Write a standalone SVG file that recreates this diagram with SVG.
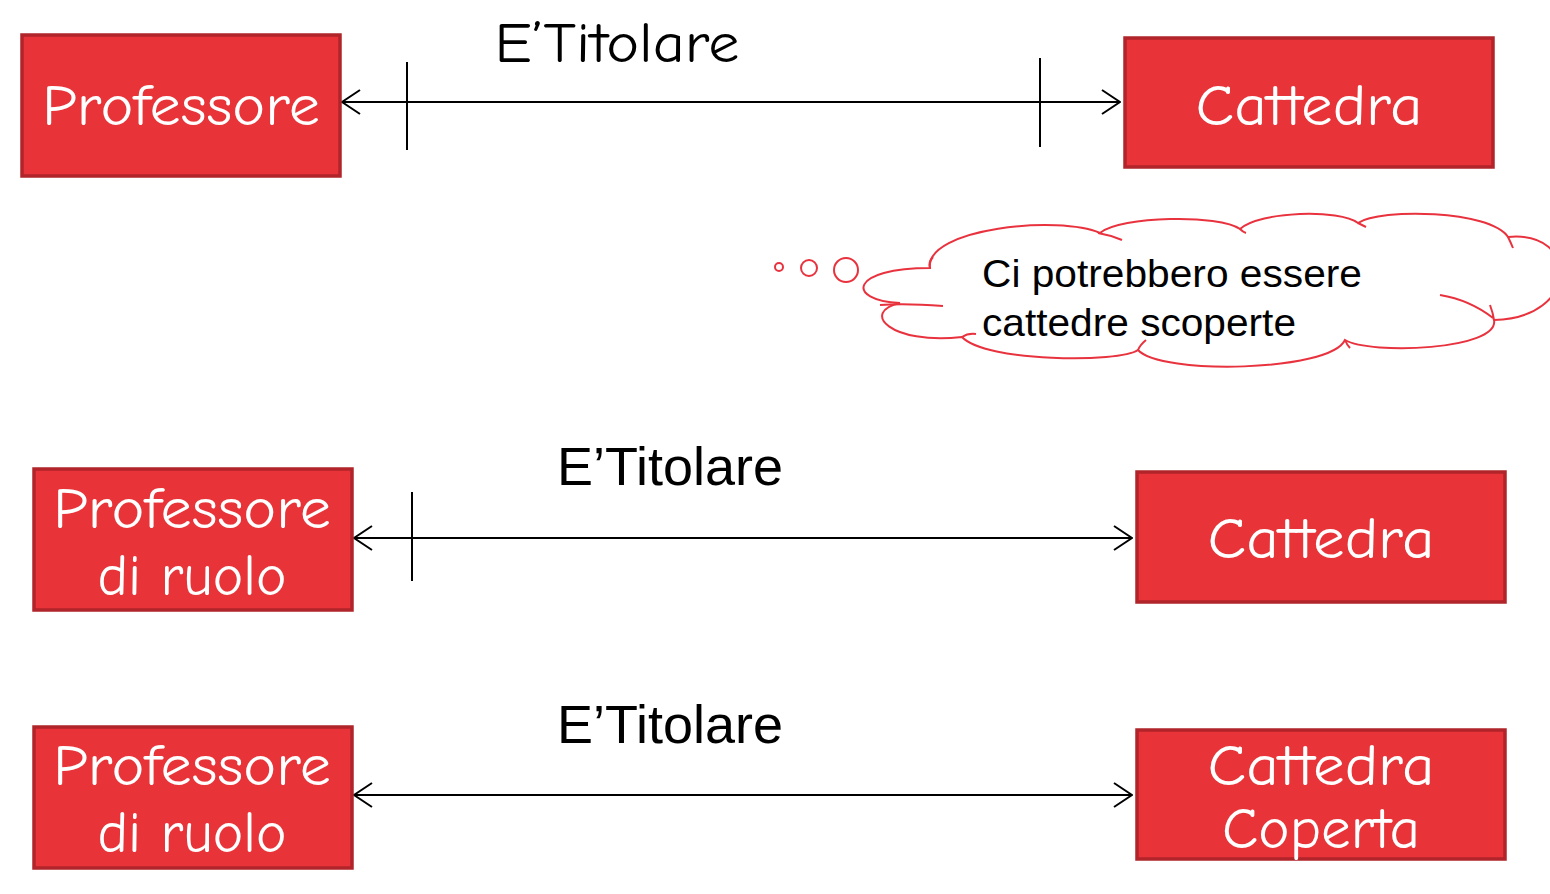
<svg xmlns="http://www.w3.org/2000/svg" width="1550" height="894" viewBox="0 0 1550 894">
<style>
.box{fill:#E83338;stroke:#B0242A;stroke-width:3.5}
.bt{font-family:"Comic Sans MS","Comic Neue","Open Sans","DejaVu Sans",sans-serif;font-size:58px;fill:#fff;text-anchor:middle}
.lbl{font-family:"Liberation Sans",Arial,sans-serif;font-size:53px;fill:#000}
.conn{stroke:#000;stroke-width:2;fill:none}
.cloud{fill:#fff;stroke:#E8333F;stroke-width:2}
.cl{fill:none;stroke:#E8333F;stroke-width:2}
.ct{font-family:"Liberation Sans",Arial,sans-serif;font-size:39px;fill:#000}
</style>
<defs>
<marker id="ah" viewBox="0 0 20 26" refX="19" refY="13" markerWidth="20" markerHeight="26" markerUnits="userSpaceOnUse" orient="auto-start-reverse">
<path d="M1 1 L19 13 L1 25" fill="none" stroke="#000" stroke-width="2"/>
</marker>
</defs>
<rect width="1550" height="894" fill="#fff"/>

<g id="connectors">
<line class="conn" x1="342" y1="102" x2="1120" y2="102" marker-start="url(#ah)" marker-end="url(#ah)"/>
<line class="conn" x1="407" y1="62" x2="407" y2="150"/>
<line class="conn" x1="1040" y1="58" x2="1040" y2="147"/>
<line class="conn" x1="354" y1="538" x2="1132" y2="538" marker-start="url(#ah)" marker-end="url(#ah)"/>
<line class="conn" x1="412" y1="492" x2="412" y2="581"/>
<line class="conn" x1="354" y1="795" x2="1132" y2="795" marker-start="url(#ah)" marker-end="url(#ah)"/>
</g>

<g id="label1"><text x="617" y="62" text-anchor="middle" style="font-family:'Comic Sans MS','Comic Neue','Open Sans','DejaVu Sans',sans-serif;font-size:56px" textLength="245" lengthAdjust="spacingAndGlyphs">E’Titolare</text></g>
<g id="label2"><text class="lbl" x="557" y="485" textLength="226" lengthAdjust="spacingAndGlyphs">E’Titolare</text></g>
<g id="label3"><text class="lbl" x="557" y="743" textLength="226" lengthAdjust="spacingAndGlyphs">E’Titolare</text></g>

<g id="professore">
<rect class="box" x="22" y="35" width="318" height="141"/>
<text class="bt" x="181" y="125" textLength="278" lengthAdjust="spacingAndGlyphs">Professore</text>
</g>
<g id="cattedra1">
<rect class="box" x="1125" y="38" width="368" height="129"/>
<text class="bt" x="1309" y="125" textLength="227" lengthAdjust="spacingAndGlyphs">Cattedra</text>
</g>

<g id="cloud">
<path class="cloud" d="M930 268 C925 228 1060 215 1100 233 C1120 216 1220 214 1240 229 C1260 211 1340 209 1358 223 C1380 208 1490 210 1508 237 C1580 230 1580 318 1494 320 C1500 350 1370 355 1345 340 C1330 372 1160 375 1138 350 C1120 363 985 362 962 337 C890 345 860 312 900 303 C845 300 850 268 930 268 Z"/>
<path class="cl" d="M880 305 Q905 303 943 306 M930 268 Q928 262 933 257 M1098 233 Q1110 235 1122 240 M1240 229 Q1243 232 1246 233 M1358 223 Q1362 225 1366 227 M1508 237 Q1511 243 1513 248 M1494 320 Q1493 313 1490 305 M1440 295 Q1470 300 1493 318 M1345 340 Q1347 345 1350 348 M1138 350 Q1140 345 1146 340 M962 337 Q968 333 976 334"/>
<text class="ct" x="982" y="287" textLength="380" lengthAdjust="spacingAndGlyphs">Ci potrebbero essere</text>
<text class="ct" x="982" y="336" textLength="314" lengthAdjust="spacingAndGlyphs">cattedre scoperte</text>
<circle class="cloud" cx="846" cy="270" r="12"/>
<circle class="cloud" cx="809" cy="268" r="8"/>
<circle class="cloud" cx="779" cy="267" r="4"/>
</g>

<g id="professore-ruolo1">
<rect class="box" x="34" y="469" width="318" height="141"/>
<text class="bt" x="192" y="528" textLength="278" lengthAdjust="spacingAndGlyphs">Professore</text>
<text class="bt" x="192" y="595" textLength="189" lengthAdjust="spacingAndGlyphs">di ruolo</text>
</g>
<g id="cattedra2">
<rect class="box" x="1137" y="472" width="368" height="130"/>
<text class="bt" x="1321" y="558" textLength="227" lengthAdjust="spacingAndGlyphs">Cattedra</text>
</g>

<g id="professore-ruolo2">
<rect class="box" x="34" y="727" width="318" height="141"/>
<text class="bt" x="192" y="785" textLength="278" lengthAdjust="spacingAndGlyphs">Professore</text>
<text class="bt" x="192" y="852" textLength="189" lengthAdjust="spacingAndGlyphs">di ruolo</text>
</g>
<g id="cattedra-coperta">
<rect class="box" x="1137" y="730" width="368" height="129"/>
<text class="bt" x="1321" y="785" textLength="227" lengthAdjust="spacingAndGlyphs">Cattedra</text>
<text class="bt" x="1321" y="848" textLength="198" lengthAdjust="spacingAndGlyphs">Coperta</text>
</g>
</svg>
